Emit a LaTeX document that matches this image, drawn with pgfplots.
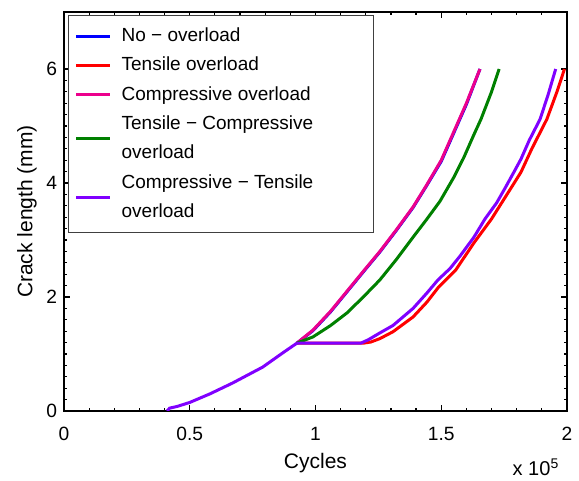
\documentclass[border=0pt]{standalone}
\usepackage{fontspec}
\setmainfont{Liberation Sans}
\usepackage{pgfplots}
\pgfplotsset{compat=1.18}
\usepackage{pgfplotstable}
\definecolor{cpurple}{RGB}{128,0,255}
\definecolor{cgreen}{RGB}{0,128,0}
\pgfplotstableread{
x y
0.41 0.00
0.42 0.05
0.45 0.08
0.50 0.15
0.58 0.30
0.67 0.49
0.79 0.77
0.87 1.02
0.926 1.19
}\common
\pgfplotstableread{
x y
0.926 1.19
0.99 1.41
1.06 1.74
1.125 2.09
1.19 2.44
1.256 2.79
1.32 3.16
1.388 3.57
1.44 3.94
1.50 4.38
1.55 4.88
1.60 5.38
1.654 6.00
}\noover
\pgfplotstableread{
x y
0.926 1.19
0.99 1.42
1.06 1.75
1.125 2.10
1.19 2.45
1.256 2.80
1.32 3.17
1.388 3.58
1.44 3.95
1.50 4.40
1.55 4.90
1.60 5.40
1.654 6.00
}\compr
\pgfplotstableread{
x y
0.926 1.19
0.99 1.30
1.06 1.50
1.125 1.72
1.19 2.00
1.256 2.30
1.32 2.65
1.388 3.05
1.44 3.35
1.495 3.68
1.55 4.10
1.59 4.45
1.63 4.85
1.658 5.12
1.70 5.60
1.73 6.00
}\tencomp
\pgfplotstableread{
x y
0.926 1.19
1.18 1.19
1.21 1.25
1.256 1.37
1.308 1.50
1.388 1.80
1.443 2.07
1.487 2.30
1.535 2.50
1.575 2.72
1.63 3.05
1.674 3.37
1.72 3.65
1.755 3.92
1.79 4.20
1.817 4.42
1.85 4.75
1.893 5.12
1.925 5.55
1.955 6.00
}\comptens
\pgfplotstableread{
x y
0.926 1.19
1.19 1.19
1.22 1.21
1.256 1.27
1.308 1.39
1.388 1.65
1.443 1.91
1.487 2.16
1.557 2.47
1.63 2.95
1.70 3.37
1.75 3.72
1.79 4.00
1.817 4.19
1.86 4.60
1.92 5.12
1.96 5.60
1.99 6.00
}\tens
\begin{document}
\begin{tikzpicture}
\useasboundingbox (-32pt,-35pt) rectangle (257.5pt,205.5pt);
\begin{axis}[
  at={(0,0)}, anchor=south west,
  scale only axis,
  width=251.5pt, height=199.5pt,
  xmin=0, xmax=2, ymin=0, ymax=7,
  xtick={0,0.5,1,1.5,2},
  xticklabels={0,0.5,1,1.5,2},
  ytick={0,2,4,6},
  minor x tick num=4,
  minor y tick num=9,
  tick align=inside,
  major tick length=3pt,
  minor tick length=1.6pt,
  every tick/.style={black, line width=0.6pt},
  axis line style={line width=0.8pt},
  /pgf/number format/assume math mode=true,
  tick label style={font=\fontsize{9.6}{11}\selectfont},
  xticklabel style={yshift=-4.5pt},
  xlabel={Cycles},
  xlabel style={at={(axis description cs:0.5,0)}, anchor=center, yshift=-26pt, font=\fontsize{10.5}{12}\selectfont},
  legend style={at={(0.008,0.992)}, anchor=north west, draw=black!75, line width=0.5pt,
    font=\fontsize{9.5}{14.75}\selectfont, row sep=2.25pt, column sep=3pt, inner ysep=4pt,
    nodes={align=left}},
  legend cell align=left,
  legend image post style={line width=1.5pt},
  every axis plot/.append style={line width=1.5pt},
]
\addplot[blue] table {\noover};
\addlegendentry{No − overload}
\addplot[red] table {\tens};
\addlegendentry{Tensile overload}
\addplot[magenta] table {\compr};
\addlegendentry{\makebox[121pt][l]{Compressive overload}}
\addplot[cgreen] table {\tencomp};
\addlegendentry{Tensile − Compressive\\overload}
\addplot[cpurple] table {\comptens};
\addlegendentry{Compressive − Tensile\\overload}
\addplot[cpurple, forget plot] table {\common};
\end{axis}
\node[rotate=90, font=\fontsize{10.5}{12}\selectfont] at (-18.5pt,99.75pt) {Crack length (mm)};
\node[font=\fontsize{10}{11}\selectfont] at (236pt,-28pt) {x 10\textsuperscript{5}};
\end{tikzpicture}
\end{document}
